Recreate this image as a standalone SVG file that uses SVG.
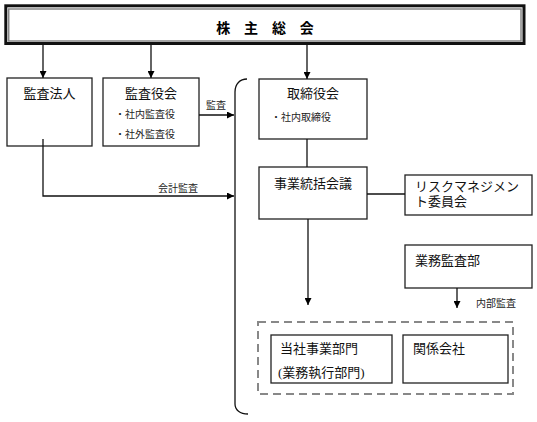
<svg xmlns="http://www.w3.org/2000/svg" width="537" height="422" viewBox="0 0 537 422">
<defs>
<style>
.box{fill:#fff;stroke:#222;stroke-width:1.3}
.t{font-family:"Liberation Serif","Noto Sans CJK JP",serif;font-size:13px;fill:#111}
.s{font-family:"Liberation Serif","Noto Sans CJK JP",serif;font-size:10px;fill:#222}
.c{text-anchor:middle}
.ln{fill:none;stroke:#111;stroke-width:1.3}
</style>
<marker id="ah" viewBox="0 0 10 10" refX="10" refY="5" markerWidth="7" markerHeight="7" markerUnits="userSpaceOnUse" orient="auto">
<path d="M0 0 L10 5 L0 10 Z" fill="#000"/>
</marker>
</defs>
<rect width="537" height="422" fill="#fff"/>

<g id="shareholders">
<rect x="5.8" y="5.8" width="518.2" height="37.7" fill="#fff" stroke="#111" stroke-width="3"/>
<rect x="8.7" y="9" width="512.3" height="32" fill="none" stroke="#888" stroke-width="1.5"/>
<text x="267.5" y="33" class="c" style="font-family:'Liberation Sans','Noto Sans CJK JP',sans-serif;font-size:14px;font-weight:bold;letter-spacing:5px;fill:#000">株 主 総 会</text>
</g>

<g id="auditfirm">
<rect class="box" x="7" y="78" width="85" height="68"/>
<text class="t c" x="49.5" y="98">監査法人</text>
</g>

<g id="auditboard">
<rect class="box" x="103" y="78" width="96" height="68"/>
<text class="t c" x="151" y="98">監査役会</text>
<text class="s" x="115" y="118">・社内監査役</text>
<text class="s" x="115" y="138">・社外監査役</text>
</g>

<g id="board">
<rect class="box" x="259" y="79" width="108" height="60"/>
<text class="t c" x="313" y="98">取締役会</text>
<text class="s" x="271" y="121">・社内取締役</text>
</g>

<g id="bizmeeting">
<rect class="box" x="259" y="167" width="108" height="52"/>
<text class="t c" x="313" y="188">事業統括会議</text>
</g>

<g id="riskcommittee">
<rect class="box" x="405" y="175" width="127" height="40"/>
<text class="t" x="415" y="191">リスクマネジメン</text>
<text class="t" x="415" y="206">ト委員会</text>
</g>

<g id="internalaudit">
<rect class="box" x="405" y="245" width="127" height="43"/>
<text class="t" x="415" y="265">業務監査部</text>
</g>

<g id="group">
<rect x="258" y="322" width="255" height="72" fill="none" stroke="#888" stroke-width="2" stroke-dasharray="8 5"/>
</g>

<g id="bizdept">
<rect class="box" x="271" y="335" width="121" height="48"/>
<text class="t" x="280" y="353">当社事業部門</text>
<text class="t" x="278" y="377">(業務執行部門)</text>
</g>

<g id="affiliates">
<rect class="box" x="403" y="335" width="105" height="48"/>
<text class="t" x="413" y="353">関係会社</text>
</g>

<g id="connectors">
<path class="ln" d="M247 79 C240 79 235 84 235 92 V404 C235 410 240 414 248 414"/>
<path class="ln" d="M43 45 V78" marker-end="url(#ah)"/>
<path class="ln" d="M151 45 V78" marker-end="url(#ah)"/>
<path class="ln" d="M307 45 V79" marker-end="url(#ah)"/>
<path class="ln" d="M199 115 H234" marker-end="url(#ah)"/>
<path class="ln" d="M43 139 V196 H234" marker-end="url(#ah)"/>
<path class="ln" d="M307 139 V167"/>
<path class="ln" d="M367 194 H405"/>
<path class="ln" d="M308 219 V305" marker-end="url(#ah)"/>
<path class="ln" d="M457 288 V308" marker-end="url(#ah)"/>
<text class="s" x="206" y="108.5">監査</text>
<text class="s" x="158" y="191.5">会計監査</text>
<text class="s" x="476" y="306.5">内部監査</text>
</g>
</svg>
